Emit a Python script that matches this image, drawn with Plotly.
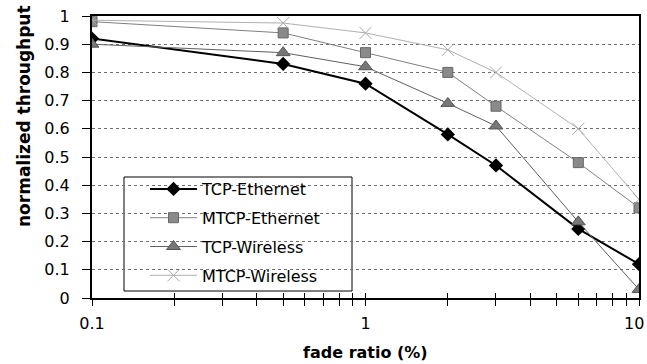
import plotly.graph_objects as go

fade_ratio = [0.1, 0.5, 1, 2, 3, 6, 10]
tcp_ethernet = [0.92, 0.83, 0.76, 0.58, 0.47, 0.245, 0.12]
mtcp_ethernet = [0.98, 0.94, 0.87, 0.80, 0.68, 0.48, 0.32]
tcp_wireless = [0.90, 0.87, 0.82, 0.69, 0.61, 0.27, 0.03]
mtcp_wireless = [0.985, 0.975, 0.94, 0.88, 0.80, 0.60, 0.35]

y_ticks = [0, 0.1, 0.2, 0.3, 0.4, 0.5, 0.6, 0.7, 0.8, 0.9, 1]
y_ticktext = ["0", "0.1", "0.2", "0.3", "0.4", "0.5", "0.6", "0.7", "0.8", "0.9", "1"]
x_ticks = [0.1, 1, 10]
x_ticktext = ["0.1", "1", "10"]
x_minor = [0.2, 0.3, 0.4, 0.5, 0.6, 0.7, 0.8, 0.9, 2, 3, 4, 5, 6, 7, 8, 9]

FONT = "DejaVu Sans"

fig = go.Figure()

series = [
    ("TCP-Ethernet", tcp_ethernet, dict(color="#000000", width=2),
     dict(symbol="diamond", size=11, color="#000000")),
    ("MTCP-Ethernet", mtcp_ethernet, dict(color="#808080", width=1),
     dict(symbol="square", size=10, color="#8a8a8a", line=dict(color="#666666", width=1))),
    ("TCP-Wireless", tcp_wireless, dict(color="#606060", width=1),
     dict(symbol="triangle-up", size=12, color="#777777", line=dict(color="#555555", width=1))),
    ("MTCP-Wireless", mtcp_wireless, dict(color="#b0b0b0", width=1),
     dict(symbol="x-thin", size=12, color="#a8a8a8", line=dict(color="#a8a8a8", width=1))),
]

for i, (name, vals, line, marker) in enumerate(series):
    fig.add_trace(go.Scatter(
        x=fade_ratio, y=vals, name=name, mode="lines+markers",
        line=line, marker=marker, legendgroup=f"g{i}",
    ))

# overlay axis for the inner half of crossing x ticks
fig.add_trace(go.Scatter(x=[0.1, 10], y=[None, None], xaxis="x2", showlegend=False,
                         hoverinfo="skip", mode="lines"))

W, H = 647, 364
L, R, T, B = 92, 8, 16, 66
pw = W - L - R
ph = H - T - B

def px_x(p):
    return (p - L) / pw

def px_y(p):
    return (H - B - p) / ph

# last tick label drawn as an annotation so it stays inside the page
shown_ticktext = x_ticktext[:-1] + [""]

fig.update_layout(
    width=W, height=H,
    margin=dict(l=L, r=R, t=T, b=B, autoexpand=False),
    paper_bgcolor="white", plot_bgcolor="white",
    font=dict(family=FONT, size=16, color="#000000"),
    showlegend=True,
    legend=dict(
        x=px_x(145), y=px_y(172), xanchor="left", yanchor="top",
        bgcolor="rgba(0,0,0,0)", borderwidth=0,
        font=dict(family=FONT, size=16, color="#000000"),
        itemwidth=47, traceorder="grouped", tracegroupgap=5,
    ),
    xaxis=dict(
        type="log", range=[-1, 1], automargin=False,
        tickvals=x_ticks, ticktext=shown_ticktext,
        ticks="outside", ticklen=6, tickwidth=1, tickcolor="#000000",
        minor=dict(tickvals=x_minor, ticks="outside", ticklen=6, tickwidth=1,
                   tickcolor="#000000", showgrid=False),
        showgrid=False, zeroline=False,
        showline=True, linecolor="#000000", linewidth=2, mirror=True,
        ticklabelstandoff=4, ticklabeloverflow="allow",
        tickfont=dict(family=FONT, size=16),
    ),
    xaxis2=dict(
        type="log", range=[-1, 1], overlaying="x", anchor="y", side="bottom",
        automargin=False,
        tickvals=x_ticks, showticklabels=False,
        ticks="inside", ticklen=5, tickwidth=1, tickcolor="#000000",
        minor=dict(tickvals=x_minor, ticks="inside", ticklen=5, tickwidth=1,
                   tickcolor="#000000", showgrid=False),
        showgrid=False, zeroline=False, showline=False,
    ),
    yaxis=dict(
        range=[0, 1], tickvals=y_ticks, ticktext=y_ticktext, automargin=False,
        ticks="outside", ticklen=8, tickwidth=1, tickcolor="#000000",
        showgrid=True, gridcolor="#707070", gridwidth=1, griddash="dot",
        zeroline=False,
        showline=True, linecolor="#000000", linewidth=2, mirror=True,
        ticklabelstandoff=9,
        tickfont=dict(family=FONT, size=16),
    ),
    shapes=[dict(
        type="rect", xref="paper", yref="paper",
        x0=px_x(124), x1=px_x(352), y0=px_y(291), y1=px_y(177),
        line=dict(color="#000000", width=1), fillcolor="white", layer="between",
    )],
    annotations=[
        dict(text=x_ticktext[-1], xref="x", yref="paper",
             x=1, y=px_y(323), xanchor="right", yanchor="middle", xshift=7,
             showarrow=False, font=dict(family=FONT, size=16, color="#000000")),
        dict(text="normalized throughput", xref="paper", yref="paper",
             x=px_x(24), y=px_y(229), xanchor="center", yanchor="bottom",
             textangle=-90, showarrow=False,
             font=dict(family=FONT, size=17, color="#000000", weight="bold")),
        dict(text="fade ratio (%)", xref="paper", yref="paper",
             x=0.5, y=px_y(353), xanchor="center", yanchor="middle",
             showarrow=False,
             font=dict(family=FONT, size=16, color="#000000", weight="bold")),
    ],
)

fig.write_html("out.html")
